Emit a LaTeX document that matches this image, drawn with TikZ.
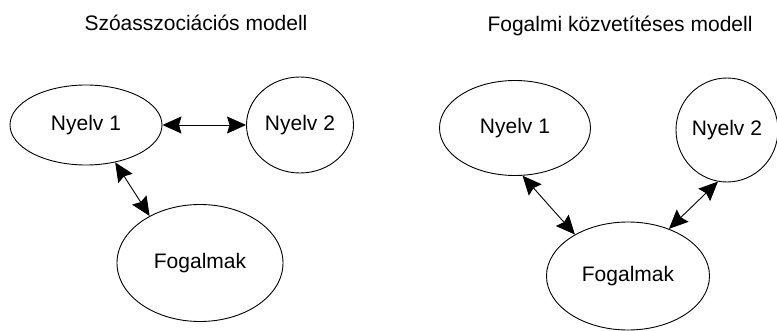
\documentclass[tikz,border=0pt]{standalone}
\usepackage{fontspec}
\setmainfont{Liberation Sans}
\usepackage{tikz}
\usetikzlibrary{shapes.geometric, arrows.meta}

\begin{document}
\begin{tikzpicture}[x=1pt, y=1pt,
        bubble/.style={draw, line width=0.9pt, ellipse, inner sep=0pt, font=\fontsize{21}{25}\selectfont},
        title/.style={anchor=base, font=\fontsize{21}{25}\selectfont},
        link/.style={{Stealth[length=19pt, width=17pt, inset=2.5pt]}-{Stealth[length=19pt, width=17pt, inset=2.5pt]}, line width=0.9pt}]
        \useasboundingbox (0,0) rectangle (777,330);

        % Szoasszociacios modell
        \node[title] (t1) at (196,299) {Szóasszociációs modell};
        \node[bubble, minimum width=152pt, minimum height=80pt] (n1) at (86,205) {Nyelv 1};
        \node[bubble, minimum width=107pt, minimum height=96pt] (n2) at (300,205) {Nyelv 2};
        \node[bubble, minimum width=166pt, minimum height=117pt] (f1) at (200,67) {Fogalmak};

        \draw[link] (n1) -- (n2);
        \draw[link] (n1.-52) -- (f1.137);

        % Fogalmi kozvetiteses modell
        \node[title] (t2) at (620,298) {Fogalmi közvetítéses modell};
        \node[bubble, minimum width=151pt, minimum height=95pt] (m1) at (515,202) {Nyelv 1};
        \node[bubble, minimum width=102pt, minimum height=104pt] (m2) at (727,200) {Nyelv 2};
        \node[bubble, minimum width=163pt, minimum height=108pt] (g1) at (628,54) {Fogalmak};

        \draw[link] (m1.-81) -- (g1.142);
        \draw[link] (m2.-100) -- (g1.49);
    \end{tikzpicture}
\end{document}
